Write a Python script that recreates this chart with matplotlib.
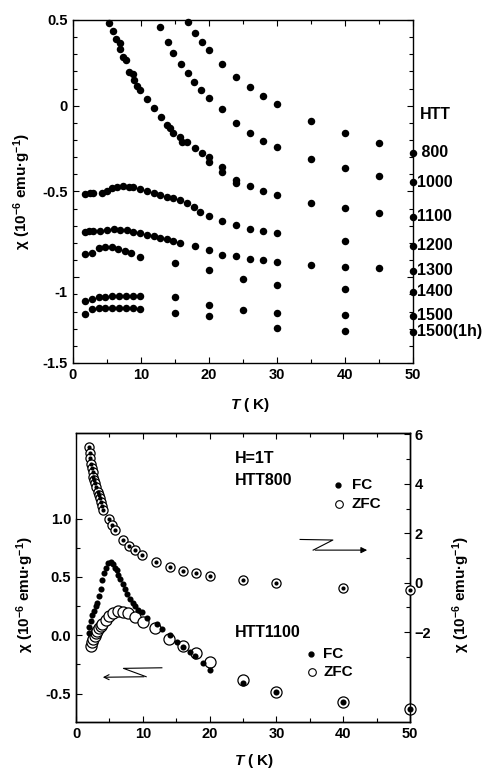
import numpy as np
import matplotlib
matplotlib.use('Agg')
from matplotlib import pyplot as plt
from matplotlib.transforms import ScaledTranslation

plt.rcParams['font.family'] = ['Liberation Sans', 'DejaVu Sans']
plt.rcParams['font.weight'] = 'bold'
plt.rcParams['mathtext.fontset'] = 'custom'
plt.rcParams['mathtext.rm'] = 'Liberation Sans:bold'
plt.rcParams['mathtext.it'] = 'Liberation Sans:bold:italic'
plt.rcParams['mathtext.bf'] = 'Liberation Sans:bold'
plt.rcParams['mathtext.default'] = 'rm'
plt.rcParams['axes.linewidth'] = 1.0

# ---- top panel: chi(T) for different HTT (K), 10^-6 emu/g ----
htt_names = [' 800', '1000', '1100', '1200', '1300', '1400', '1500', '1500(1h)']

T_800 = [17, 18, 19, 20, 22, 24, 26, 28, 30, 35, 40, 45, 50]
chi_800 = [0.49, 0.426, 0.374, 0.325, 0.243, 0.17, 0.108, 0.057, 0.01, -0.087, -0.16, -0.219, -0.275]

T_1000 = [12.8, 14, 14.8, 15.9, 16.9, 17.8, 18.9, 20, 22, 24, 26, 28, 30, 35, 40, 45, 50]
chi_1000 = [0.457, 0.374, 0.31, 0.243, 0.189, 0.14, 0.092, 0.047, -0.02, -0.099, -0.16, -0.205, -0.24,
            -0.312, -0.364, -0.41, -0.445]

T_1100 = [5.4, 5.9, 6.4, 6.9, 7.0, 7.4, 7.9, 8.3, 8.9, 9.0, 9.5, 9.9, 10.9, 12.0, 12.9, 13.9, 14.3, 14.8,
          15.8, 16.0, 16.8, 18.0, 19.0, 20, 20, 22, 22, 24, 24, 26, 28, 30, 35, 40, 45, 50]
chi_1100 = [0.484, 0.437, 0.387, 0.364, 0.329, 0.283, 0.267, 0.199, 0.184, 0.15, 0.115, 0.092, 0.038, -0.015,
            -0.067, -0.112, -0.131, -0.16, -0.18, -0.21, -0.21, -0.248, -0.277, -0.297, -0.326, -0.355, -0.384,
            -0.432, -0.448, -0.466, -0.495, -0.52, -0.565, -0.597, -0.623, -0.648]

T_1200 = [1.8, 2.5, 3.0, 4.3, 5.0, 5.7, 6.5, 7.4, 8.2, 8.9, 9.9, 10.9, 11.9, 12.8, 13.8, 14.7, 15.8, 16.8,
          17.8, 18.7, 20, 22, 24, 26, 28, 30, 40, 50]
chi_1200 = [-0.514, -0.51, -0.507, -0.507, -0.495, -0.481, -0.471, -0.467, -0.471, -0.475, -0.487, -0.497,
            -0.51, -0.52, -0.53, -0.539, -0.552, -0.565, -0.59, -0.617, -0.642, -0.675, -0.695, -0.716, -0.73,
            -0.74, -0.786, -0.817]

T_1300 = [1.8, 2.4, 3.0, 4.0, 5.0, 6.0, 7.0, 8.0, 8.9, 9.9, 10.9, 11.9, 12.8, 13.8, 14.8, 15.8, 18, 20, 22,
          24, 26, 28, 30, 35, 40, 45, 50]
chi_1300 = [-0.737, -0.733, -0.73, -0.729, -0.722, -0.72, -0.722, -0.727, -0.734, -0.743, -0.753, -0.762,
            -0.772, -0.779, -0.786, -0.798, -0.817, -0.844, -0.87, -0.879, -0.893, -0.90, -0.91, -0.928,
            -0.94, -0.949, -0.963]

T_1400 = [1.8, 2.8, 3.8, 4.7, 5.7, 6.7, 7.7, 8.6, 9.9, 15, 20, 25, 30, 40, 50]
chi_1400 = [-0.864, -0.856, -0.83, -0.825, -0.825, -0.835, -0.846, -0.86, -0.883, -0.915, -0.957, -1.012,
            -1.046, -1.069, -1.085]

T_1500 = [1.8, 2.8, 3.8, 4.8, 5.8, 6.8, 7.8, 8.8, 9.9, 15, 20, 25, 30, 40, 50]
chi_1500 = [-1.136, -1.128, -1.117, -1.113, -1.11, -1.11, -1.11, -1.11, -1.108, -1.118, -1.16, -1.193,
            -1.21, -1.223, -1.225]

T_1500h = [1.8, 2.8, 3.8, 4.8, 5.8, 6.8, 7.8, 8.8, 9.9, 15, 20, 30, 40, 50]
chi_1500h = [-1.213, -1.186, -1.18, -1.18, -1.18, -1.18, -1.18, -1.181, -1.186, -1.206, -1.229, -1.297,
             -1.312, -1.318]

# ---- bottom panel: H=1T, FC / ZFC ----
# HTT800 on right axis (FC and ZFC lie on top of each other)
T_800b = [2.0, 2.1, 2.15, 2.25, 2.4, 2.5, 2.6, 2.75, 2.9, 3.0, 3.25, 3.4, 3.6, 3.75, 3.9, 4.0,
          5.0, 5.35, 5.85, 7.0, 8.0, 8.85, 9.85, 12.0, 14.0, 16.0, 18.0, 20, 25, 30, 40, 50]
chi_800b = [5.47, 5.23, 5.03, 4.82, 4.62, 4.49, 4.28, 4.15, 4.02, 3.85, 3.68, 3.54, 3.41, 3.27, 3.10, 2.94,
            2.56, 2.33, 2.13, 1.73, 1.48, 1.32, 1.12, 0.83, 0.65, 0.49, 0.38, 0.27, 0.10, -0.03, -0.2, -0.3]

# HTT1100 on left axis
T_1100_fc = [1.9, 2.0, 2.2, 2.45, 2.7, 3.0, 3.2, 3.5, 3.7, 3.95, 4.2, 4.5, 4.85, 5.2, 5.5, 5.85, 6.1, 6.35,
             6.6, 7.0, 7.35, 7.7, 8.1, 8.5, 8.85, 9.35, 9.85, 10.6, 12.1, 12.85, 14.0, 15.1, 16.0, 17.0,
             17.85, 19.0, 20, 25, 30, 40, 50]
chi_1100_fc = [0.02, 0.07, 0.12, 0.17, 0.21, 0.25, 0.28, 0.34, 0.40, 0.47, 0.53, 0.58, 0.62, 0.63, 0.61,
               0.58, 0.56, 0.52, 0.48, 0.44, 0.40, 0.35, 0.31, 0.28, 0.25, 0.22, 0.20, 0.15, 0.095, 0.05, 0.0,
               -0.06, -0.10, -0.14, -0.18, -0.24, -0.30, -0.41, -0.485, -0.57, -0.63]
T_1100_zfc = [2.2, 2.45, 2.6, 2.8, 3.0, 3.2, 3.45, 3.7, 3.95, 4.5, 5.0, 5.6, 6.35, 7.0, 7.85, 8.85, 10.0,
              11.85, 13.85, 16.0, 18.0, 20, 25, 30, 40, 50]
chi_1100_zfc = [-0.09, -0.06, -0.03, -0.01, 0.02, 0.04, 0.06, 0.08, 0.10, 0.13, 0.165, 0.195, 0.21, 0.20,
                0.19, 0.16, 0.11, 0.06, -0.03, -0.09, -0.155, -0.23, -0.385, -0.485, -0.57, -0.63]

FS = 11


def style_axis(ax):
    ax.tick_params(which='both', direction='in', top=True, right=True, width=0.8, labelsize=10.5)
    ax.tick_params(which='major', length=4.5)
    ax.tick_params(which='minor', length=3)
    for lab in ax.get_xticklabels() + ax.get_yticklabels():
        lab.set_fontweight('bold')


fig = plt.figure(figsize=(4.87, 7.69), dpi=100)

# ================= top panel =================
ax1 = fig.add_axes([0.1493, 0.528, 0.6988, 0.446])
series = [(T_800, chi_800), (T_1000, chi_1000), (T_1100, chi_1100), (T_1200, chi_1200),
          (T_1300, chi_1300), (T_1400, chi_1400), (T_1500, chi_1500), (T_1500h, chi_1500h)]
for T, chi in series:
    ax1.plot(T, chi, 'o', color='black', markersize=5.4, markeredgewidth=0, clip_on=False, zorder=3)

ax1.set_xlim(0, 50)
ax1.set_ylim(-1.5, 0.5)
ax1.set_xticks([0, 10, 20, 30, 40, 50])
ax1.set_xticks([5, 15, 25, 35, 45], minor=True)
ax1.set_yticks([-1.5, -1, -0.5, 0, 0.5], labels=['-1.5', '-1', '-0.5', '0', '0.5'])
ax1.set_yticks(np.arange(-1.4, 0.45, 0.1), minor=True)
style_axis(ax1)

# the "-1" label sits a little low in the original
tk = ax1.yaxis.get_major_ticks()[1]
tk.label1.set_transform(tk.label1.get_transform() + ScaledTranslation(0, -14 / 100, fig.dpi_scale_trans))

ax1.set_xlabel('$\\mathit{T}$ ( K)', fontsize=FS, fontweight='bold')
ax1.xaxis.set_label_coords(0.52, -0.097)
ax1.set_ylabel('χ (10$^{-6}$ emu·g$^{-1}$)', fontsize=FS, fontweight='bold')
ax1.yaxis.set_label_coords(-0.117, 0.5)

ax1.annotate('HTT', xy=(50, -0.054), xytext=(5, 0), textcoords='offset points',
             ha='left', va='center', fontsize=11.5, fontweight='bold', annotation_clip=False)
for name, (T, chi) in zip(htt_names, series):
    ax1.annotate(name, xy=(50, chi[-1]), xytext=(3, 0), textcoords='offset points',
                 ha='left', va='center', fontsize=11.5, fontweight='bold', annotation_clip=False)

# ================= bottom panel =================
ax2 = fig.add_axes([0.1561, 0.0615, 0.6858, 0.375])
ax3 = ax2.twinx()

ax2.plot(T_1100_zfc, chi_1100_zfc, 'o', markerfacecolor='white', markeredgecolor='black',
         markersize=8, markeredgewidth=0.9, clip_on=False, zorder=3)
ax2.plot(T_1100_fc, chi_1100_fc, 'o', color='black', markersize=4.4, markeredgewidth=0,
         clip_on=False, zorder=4)

ax3.plot(T_800b, chi_800b, 'o', markerfacecolor='white', markeredgecolor='black',
         markersize=6.6, markeredgewidth=0.9, clip_on=False, zorder=3)
ax3.plot(T_800b, chi_800b, 'o', color='black', markersize=3.0, markeredgewidth=0,
         clip_on=False, zorder=4)

ax2.set_xlim(0, 50)
ax2.set_ylim(-0.74, 1.73)
ax3.set_ylim(-5.62, 6.04)
ax2.spines['left'].set_bounds(-0.74, 1.0)
ax2.set_xticks([0, 10, 20, 30, 40, 50])
ax2.set_xticks([5, 15, 25, 35, 45], minor=True)
ax2.set_yticks([-0.5, 0, 0.5, 1.0], labels=['-0.5', '0.0', '0.5', '1.0'])
ax2.set_yticks([-0.25, 0.25, 0.75], minor=True)
ax3.set_yticks([-2, 0, 2, 4, 6])
ax3.set_yticks([-3, -1, 1, 3, 5], minor=True)

ax2.tick_params(which='both', direction='in', top=True, right=False, width=0.8, labelsize=10.5)
ax2.tick_params(which='major', length=4.5)
ax2.tick_params(which='minor', length=3)
ax3.tick_params(which='both', direction='in', width=0.8, labelsize=10.5)
ax3.tick_params(which='major', length=4.5)
ax3.tick_params(which='minor', length=3)
for lab in ax2.get_xticklabels() + ax2.get_yticklabels() + ax3.get_yticklabels():
    lab.set_fontweight('bold')

ax2.set_xlabel('$\\mathit{T}$ ( K)', fontsize=FS, fontweight='bold')
ax2.xaxis.set_label_coords(0.533, -0.105)
ax2.set_ylabel('χ (10$^{-6}$ emu·g$^{-1}$)', fontsize=FS, fontweight='bold')
ax2.yaxis.set_label_coords(-0.12, 0.44)
ax3.set_ylabel('χ (10$^{-6}$ emu·g$^{-1}$)', fontsize=FS, fontweight='bold', rotation=90)
ax3.yaxis.set_label_coords(1.12, 0.44)

tr = ax2.transAxes
ax2.text(0.476, 0.914, 'H=1T', transform=tr, fontsize=11.5, fontweight='bold', va='center')
ax2.text(0.476, 0.838, 'HTT800', transform=tr, fontsize=11.5, fontweight='bold', va='center')
ax2.text(0.476, 0.311, 'HTT1100', transform=tr, fontsize=11.5, fontweight='bold', va='center')

# legends drawn by hand
ax2.plot([0.784], [0.821], 'o', color='black', markersize=3.5, transform=tr)
ax2.plot([0.787], [0.755], 'o', markerfacecolor='white', markeredgecolor='black', markersize=5.5,
         markeredgewidth=0.8, transform=tr)
ax2.text(0.826, 0.821, 'FC', transform=tr, fontsize=11, fontweight='bold', va='center')
ax2.text(0.826, 0.755, 'ZFC', transform=tr, fontsize=11, fontweight='bold', va='center')
ax2.plot([0.703], [0.235], 'o', color='black', markersize=3.5, transform=tr)
ax2.plot([0.706], [0.173], 'o', markerfacecolor='white', markeredgecolor='black', markersize=5.5,
         markeredgewidth=0.8, transform=tr)
ax2.text(0.740, 0.235, 'FC', transform=tr, fontsize=11, fontweight='bold', va='center')
ax2.text(0.740, 0.173, 'ZFC', transform=tr, fontsize=11, fontweight='bold', va='center')

# z-shaped arrows pointing to the axis of each curve
ax2.plot([0.671, 0.769, 0.710], [0.632, 0.630, 0.595], color='black', lw=0.8, transform=tr)
ax2.annotate('', xy=(0.880, 0.595), xytext=(0.708, 0.595), xycoords=tr, textcoords=tr,
             arrowprops=dict(arrowstyle='-|>', lw=0.8, color='black', mutation_scale=9))
ax2.plot([0.257, 0.142, 0.210], [0.187, 0.185, 0.156], color='black', lw=0.8, transform=tr)
ax2.annotate('', xy=(0.072, 0.154), xytext=(0.212, 0.156), xycoords=tr, textcoords=tr,
             arrowprops=dict(arrowstyle='->', lw=0.8, color='black', mutation_scale=9))

fig.savefig('out.png', dpi=100, facecolor='white')
